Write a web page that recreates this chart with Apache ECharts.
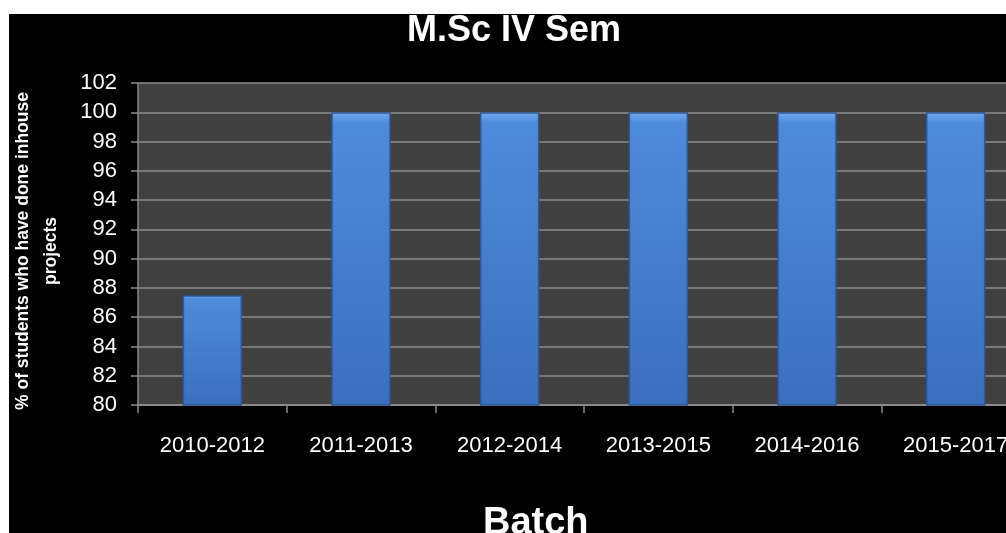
<!DOCTYPE html>
<html>
<head>
<meta charset="utf-8">
<script src="https://cdn.jsdelivr.net/npm/echarts@6/dist/echarts.min.js"></script>
<style>
html,body{margin:0;padding:0;background:#fff;}
#c{width:1006px;height:533px;}
</style>
</head>
<body>
<div id="c"></div>
<script>
var categories = ['2010-2012','2011-2013','2012-2014','2013-2015','2014-2016','2015-2017'];
var values = [87.5, 100, 100, 100, 100, 100];
var titleText = 'M.Sc IV Sem';
var xName = 'Batch';
var yName = '% of students who have done inhouse\nprojects';

var chart = echarts.init(document.getElementById('c'), null, {renderer:'canvas'});
var font = '"Liberation Sans", Arial, sans-serif';
chart.setOption({
  backgroundColor: '#000',
  animation: false,
  title: [
    {text: titleText, left: 407, top: 13, textStyle: {color:'#fff', fontSize: 36, fontWeight:'bold', fontFamily: font}, padding: 0},
    {text: xName, left: 483, top: 505, textStyle: {color:'#fff', fontSize: 38, fontWeight:'bold', fontFamily: font}, padding: 0}
  ],
  grid: {left: 138, top: 83, width: 892, height: 322, outerBoundsMode: 'none', containLabel: false, show: true, backgroundColor: '#404040', borderWidth: 0},
  xAxis: {
    type: 'category',
    data: categories,
    axisLine: {lineStyle: {color: '#8a8a8a', width: 2}},
    axisTick: {show: true, length: 8, lineStyle: {color: '#8a8a8a', width: 1.5}},
    axisLabel: {color: '#fff', fontSize: 22, fontFamily: font, margin: 30},
    silent: true
  },
  yAxis: {
    type: 'value',
    min: 80, max: 102, interval: 2,
    name: yName,
    nameLocation: 'middle',
    nameGap: 73,
    nameTextStyle: {color:'#fff', fontSize: 17.5, fontWeight:'bold', fontFamily: font, lineHeight: 28, padding: [0, 14, 0, 0]},
    axisLine: {show: true, lineStyle: {color: '#8a8a8a', width: 1.5}},
    axisTick: {show: true, length: 7, lineStyle: {color: '#8a8a8a', width: 1.5}},
    axisLabel: {color: '#fff', fontSize: 22, fontFamily: font, margin: 21},
    splitLine: {lineStyle: {color: '#8c8c8c', width: 1.5}}
  },
  series: [{
    type: 'bar',
    data: values,
    barWidth: '40%',
    itemStyle: {
      color: new echarts.graphic.LinearGradient(0, 0, 0, 1, [
        {offset: 0, color: '#74adf2'},
        {offset: 0.035, color: '#4f8bdb'},
        {offset: 1, color: '#3a6fbd'}
      ]),
      borderColor: '#2c5897',
      borderWidth: 1.5
    }
  }],
  graphic: [
    {type: 'rect', z: 100, shape: {x: 0, y: 0, width: 1006, height: 14}, style: {fill: '#fff'}},
    {type: 'rect', z: 100, shape: {x: 0, y: 0, width: 9, height: 533}, style: {fill: '#fff'}}
  ]
});
</script>
</body>
</html>
